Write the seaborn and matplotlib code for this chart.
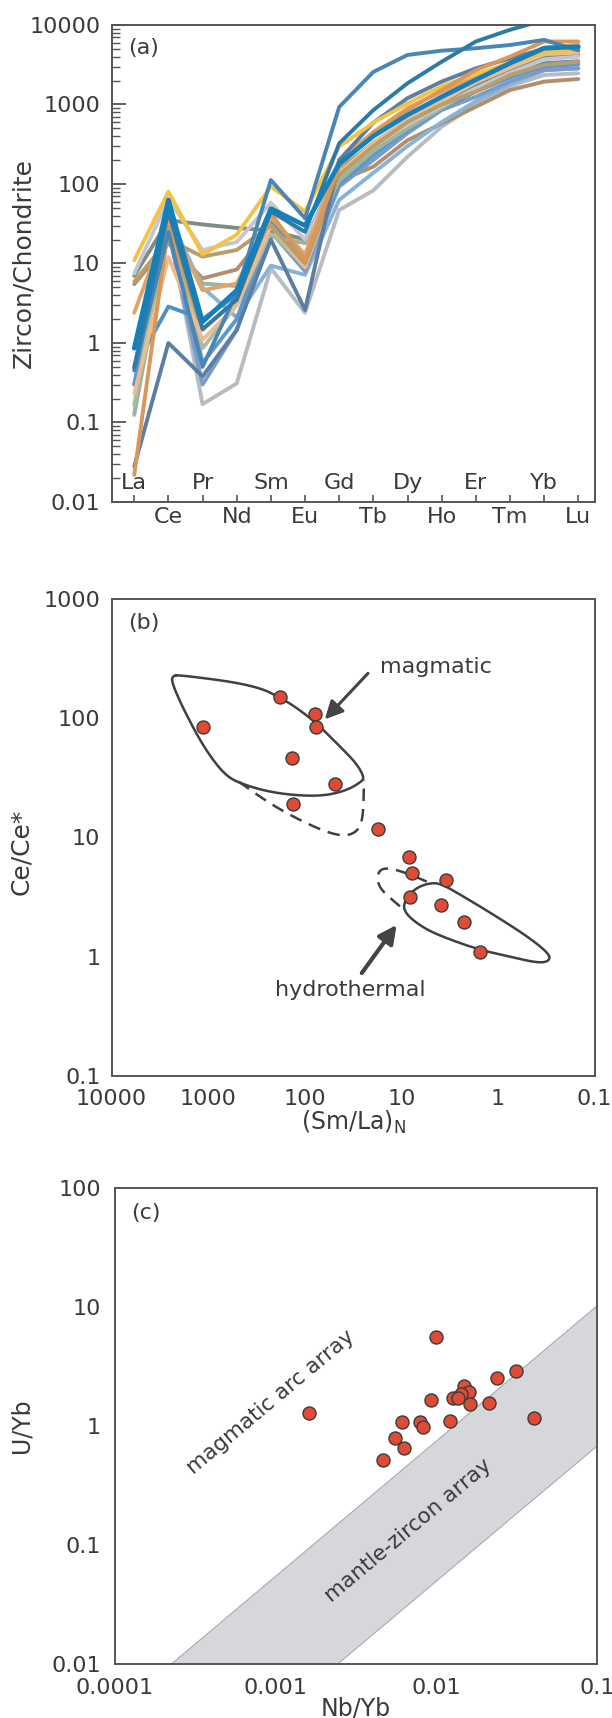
import numpy as np
import pandas as pd
import matplotlib
matplotlib.use("Agg")
import matplotlib.pyplot as plt
import matplotlib.transforms as mtransforms
from matplotlib.ticker import LogLocator, FuncFormatter, NullFormatter
import seaborn as sns

# ---------------------------------------------------------------- data
elements = ["La", "Ce", "Pr", "Nd", "Sm", "Eu", "Gd",
            "Tb", "Dy", "Ho", "Er", "Tm", "Yb", "Lu"]

# chondrite-normalised zircon REE patterns, one list per grain
z01 = [11, 80, 13, 23, 93, 45, 295, 590, 1030, 1700, 2400, 3300, 4600, 4900]
z02 = [0.45, 25, 0.5, 4.3, 112, 37, 930, 2570, 4200, 4750, 5100, 5600, 6500, 4800]
z03 = [0.5, 45, 1.5, 3.5, 45, 25, 325, 850, 1850, 3450, 6200, 8700, 11500, 14000]
z04 = [0.86, 63, 1.85, 4.6, 49, 30, 180, 400, 740, 1250, 2050, 3300, 5100, 5330]
z05 = [0.022, 29, 1.46, 3.5, 43, 11, 165, 435, 850, 1520, 2700, 4000, 6200, 6200]
z06 = [0.23, 12, 1.1, 3.0, 30, 9, 140, 330, 650, 1100, 1900, 2900, 4300, 4500]
z07 = [2.4, 35, 4.6, 5.6, 38, 13, 200, 450, 900, 1450, 2300, 3400, 5200, 5600]
z08 = [5.9, 20, 12.2, 14.8, 30, 10, 130, 300, 600, 1000, 1450, 2350, 3150, 3450]
z09 = [5.5, 18, 6.5, 8.4, 28, 12, 110, 165, 355, 575, 935, 1520, 1940, 2090]
z10 = [0.166, 40, 0.86, 3.0, 25, 9, 124, 295, 575, 1030, 1770, 2850, 4400, 4620]
z11 = [0.13, 25, 5.6, 5.2, 22, 18, 110, 260, 500, 900, 1600, 2500, 3800, 4200]
z12 = [7, 35, 31, 28, 26, 20, 150, 330, 620, 1050, 1700, 2700, 4000, 4300]
z13 = [7.5, 65, 14.8, 18.6, 58, 20, 140, 300, 560, 950, 1600, 2500, 3700, 4000]
z14 = [0.124, 30, 0.17, 0.31, 8.7, 2.4, 47, 83, 220, 525, 1000, 1700, 2350, 2470]
z15 = [0.028, 1.0, 0.38, 1.46, 20, 2.6, 200, 590, 1200, 1940, 2850, 3800, 5000, 5200]
z16 = [0.48, 40, 5.0, 2.1, 9.4, 7.2, 63, 138, 300, 600, 1100, 1800, 2700, 2850]
z17 = [0.30, 25, 0.30, 1.46, 25, 8, 93, 200, 435, 850, 1250, 1950, 2700, 2850]
z18 = [0.48, 2.87, 2.0, 4.0, 35, 12, 110, 250, 500, 900, 1500, 2300, 3300, 3500]
z19 = [0.3, 50, 0.56, 2.0, 30, 10, 100, 230, 480, 880, 1450, 2200, 3000, 3200]

# (Sm/La)N vs Ce/Ce*
sm_la_n = [1137, 181, 78, 76, 137, 48.7, 131, 17.3, 8.36, 7.8, 3.44, 8.13, 3.89, 2.26, 1.54]
ce_ce = [84.5, 152, 108, 85, 46.8, 28, 19, 11.8, 6.8, 5.08, 4.4, 3.2, 2.72, 1.94, 1.1]

# field outlines (Hoskin, 2005)
magmatic_x = [2360, 1954, 333, 158, 82, 46.9, 29.4, 24.4, 25.6, 38.9, 74.8, 208, 482, 701, 1119, 1781, 2360]
magmatic_y = [226, 231, 190, 142, 96.8, 62, 42.2, 32.4, 29.4, 24.3, 22, 23.5, 28.5, 34.6, 57.8, 117, 196]
magmatic_ext_x = [482, 208, 82, 42.7, 29.4, 24.9, 24.4]
magmatic_ext_y = [29.4, 18.2, 12.3, 10.2, 10.9, 14.1, 30.4]
hydro_x = [9.38, 8.13, 6.4, 4.66, 3.67, 2.28, 1.03, 0.466, 0.289, 0.30, 0.396, 0.75, 1.53, 3.13, 5.46, 8.13, 9.38]
hydro_y = [2.81, 3.41, 3.93, 4.19, 4.0, 3.2, 2.17, 1.43, 1.04, 0.91, 0.89, 1.0, 1.14, 1.39, 1.68, 2.11, 2.47]
hydro_ext_x = [5.46, 8.79, 13.1, 16.6, 18.0, 16.6, 13.6, 9.38]
hydro_ext_y = [4.27, 5.02, 5.53, 5.42, 4.56, 3.76, 3.2, 2.47]

# Nb/Yb vs U/Yb
nb_yb = [0.01, 0.00162, 0.0313, 0.0240, 0.01486, 0.0159, 0.01428, 0.01277, 0.01365, 0.00923,
         0.01633, 0.0214, 0.0407, 0.0122, 0.00617, 0.00792, 0.00825, 0.00557, 0.00631, 0.00466]
u_yb = [5.56, 1.28, 2.88, 2.52, 2.17, 1.94, 1.85, 1.71, 1.71, 1.65,
        1.53, 1.57, 1.16, 1.10, 1.09, 1.09, 0.975, 0.79, 0.65, 0.518]

# mantle-zircon array (Grimes et al., 2007)
mantle_x = [1e-4, 0.1]
mantle_upper = [0.00404, 10.4]
mantle_lower = [0.00027, 0.69]

# ---------------------------------------------------------------- style
spectra = {"z01": z01, "z02": z02, "z03": z03, "z04": z04, "z05": z05, "z06": z06,
           "z07": z07, "z08": z08, "z09": z09, "z10": z10, "z11": z11, "z12": z12,
           "z13": z13, "z14": z14, "z15": z15, "z16": z16, "z17": z17, "z18": z18,
           "z19": z19}
line_colors = {"z01": "#f4c244", "z02": "#4a86b5", "z03": "#2c7aa6", "z04": "#1480b9",
               "z05": "#d8985a", "z06": "#ecbc8f", "z07": "#e0a36c", "z08": "#b99d6b",
               "z09": "#b28e6e", "z10": "#a9bca4", "z11": "#9db39a", "z12": "#7d8f85",
               "z13": "#c3c6ca", "z14": "#b8bcc1", "z15": "#5b7ea2", "z16": "#87b2da",
               "z17": "#7b9cc7", "z18": "#4f90c6", "z19": "#5d98cc"}
draw_order = ["z14", "z09", "z16", "z17", "z18", "z19", "z11", "z10", "z12", "z13",
              "z06", "z08", "z07", "z15", "z01", "z05", "z02", "z03"]

sns.set_theme(style="white")
plt.rcParams["font.family"] = ["DejaVu Sans"]
plt.rcParams["mathtext.fontset"] = "dejavusans"

TXT = "#3a3a3a"
FRAME = "#555555"
OUTLINE = "#404040"
RED = "#e04b36"
TICK = 16

fig = plt.figure(figsize=(6.12, 17.18), dpi=100)
ax_a = fig.add_axes([0.1822, 0.7078, 0.7895, 0.27765])
ax_b = fig.add_axes([0.1822, 0.37369, 0.7895, 0.27765])
ax_c = fig.add_axes([0.18725, 0.03143, 0.7883, 0.27707])


def frame(ax):
    for sp in ax.spines.values():
        sp.set_color(FRAME)
        sp.set_linewidth(1.4)
    ax.set_facecolor("white")


def log_axis(axis):
    axis.set_major_locator(LogLocator(base=10, numticks=20))
    axis.set_minor_locator(LogLocator(base=10, subs=np.arange(2, 10), numticks=20))
    axis.set_major_formatter(FuncFormatter(lambda v, _: f"{v:g}"))
    axis.set_minor_formatter(NullFormatter())


def rounded(xs, ys, closed, passes=3):
    """Corner-cut a field outline in log space so it is drawn as a smooth curve."""
    p = np.column_stack([np.log10(xs), np.log10(ys)])
    for _ in range(passes):
        q = np.roll(p, -1, axis=0) if closed else p[1:]
        a = p if closed else p[:-1]
        new = np.empty((2 * len(a), 2))
        new[0::2] = 0.75 * a + 0.25 * q
        new[1::2] = 0.25 * a + 0.75 * q
        if not closed:
            new = np.vstack([p[:1], new, p[-1:]])
        p = new
    if closed:
        p = np.vstack([p, p[:1]])
    return 10 ** p[:, 0], 10 ** p[:, 1]


# ---------------------------------------------------------------- (a)
ax = ax_a
frame(ax)
ax.set_yscale("log")
long = pd.DataFrame(
    [(k, i, v) for k, vals in spectra.items() for i, v in enumerate(vals)],
    columns=["grain", "pos", "value"])
sns.lineplot(data=long[long.grain != "z04"], x="pos", y="value", hue="grain",
             hue_order=draw_order, palette=line_colors, estimator=None, sort=False,
             linewidth=2.8, legend=False, ax=ax)
sns.lineplot(data=long[long.grain == "z04"], x="pos", y="value", color=line_colors["z04"],
             estimator=None, sort=False, linewidth=3.4, legend=False, ax=ax)
ax.set_xlim(-0.666, 13.48)
ax.set_ylim(0.01, 10000)
log_axis(ax.yaxis)
ax.set_xticks(range(len(elements)))
ax.set_xticklabels([])
ax.tick_params(axis="x", direction="in", length=5, width=1.2, color=FRAME, bottom=True, top=False)
ax.tick_params(axis="y", which="major", direction="in", length=10, width=1.3, color=FRAME,
               labelcolor=TXT, labelsize=TICK, pad=8, left=True, right=False)
ax.tick_params(axis="y", which="minor", direction="in", length=6, width=1.0, color=FRAME,
               left=True, right=False)
blend = mtransforms.blended_transform_factory(ax.transData, ax.transAxes)
for i, el in enumerate(elements):
    ypos = 0.040 if i % 2 == 0 else -0.032
    ax.text(i, ypos, el, transform=blend, ha="center", va="center", fontsize=TICK, color=TXT)
ax.set_xlabel("")
ax.set_ylabel("Zircon/Chondrite", fontsize=18, color=TXT)
ax.yaxis.set_label_coords(-0.158, 0.5)
ax.text(0.034, 0.952, "(a)", transform=ax.transAxes, fontsize=TICK, color=TXT, va="center")

# ---------------------------------------------------------------- (b)
ax = ax_b
frame(ax)
ax.set_xscale("log")
ax.set_yscale("log")
mx, my = rounded(magmatic_x, magmatic_y, closed=True)
ax.plot(mx, my, color=OUTLINE, lw=1.8)
mx, my = rounded(magmatic_ext_x, magmatic_ext_y, closed=False)
ax.plot(mx, my, color=OUTLINE, lw=1.8, ls=(0, (5, 3.2)))
hx, hy = rounded(hydro_x, hydro_y, closed=True)
ax.plot(hx, hy, color=OUTLINE, lw=1.8)
hx, hy = rounded(hydro_ext_x, hydro_ext_y, closed=False)
ax.plot(hx, hy, color=OUTLINE, lw=1.8, ls=(0, (5, 3.2)))
sns.scatterplot(x=sm_la_n, y=ce_ce, s=88, color=RED, edgecolor="#3b3b3b", linewidth=1.0,
                zorder=3, legend=False, ax=ax)
ax.set_xlim(10000, 0.1)
ax.set_ylim(0.1, 1000)
log_axis(ax.xaxis)
log_axis(ax.yaxis)
ax.tick_params(axis="both", which="major", direction="in", length=10, width=1.3, color=FRAME,
               labelcolor=TXT, labelsize=TICK, top=False, right=False)
ax.tick_params(axis="both", which="minor", direction="in", length=5.5, width=1.0, color=FRAME,
               top=False, right=False)
ax.tick_params(axis="y", which="major", pad=8)
ax.tick_params(axis="x", which="major", pad=9)
ax.set_xlabel(r"(Sm/La)$_\mathregular{N}$", fontsize=17, color=TXT, labelpad=0)
ax.set_ylabel("Ce/Ce*", fontsize=18, color=TXT)
ax.yaxis.set_label_coords(-0.162, 0.47)
ax.text(0.034, 0.95, "(b)", transform=ax.transAxes, fontsize=TICK, color=TXT, va="center")
ax.text(16.6, 271, "magmatic", fontsize=TICK, color=TXT, ha="left", va="center")
ax.annotate("", xy=(62, 98), xytext=(22.2, 238),
            arrowprops=dict(arrowstyle="-|>,head_length=0.9,head_width=0.45", color="#444444",
                            lw=2.2, shrinkA=0, shrinkB=0))
ax.text(34, 0.53, "hydrothermal", fontsize=TICK, color=TXT, ha="center", va="center")
ax.annotate("", xy=(11.2, 1.85), xytext=(25.7, 0.73),
            arrowprops=dict(arrowstyle="-|>,head_length=0.9,head_width=0.45", color="#444444",
                            lw=3.0, shrinkA=0, shrinkB=0))

# ---------------------------------------------------------------- (c)
ax = ax_c
frame(ax)
ax.set_xscale("log")
ax.set_yscale("log")
ax.fill_between(mantle_x, mantle_lower, mantle_upper, facecolor="#d6d7da",
                edgecolor="#a9abaf", linewidth=0.8, zorder=1)
sns.scatterplot(x=nb_yb, y=u_yb, s=88, color=RED, edgecolor="#3b3b3b", linewidth=1.0,
                zorder=3, legend=False, ax=ax)
ax.set_xlim(1e-4, 0.1)
ax.set_ylim(0.01, 100)
log_axis(ax.xaxis)
log_axis(ax.yaxis)
ax.tick_params(axis="both", which="major", direction="in", length=10, width=1.3, color=FRAME,
               labelcolor=TXT, labelsize=TICK, top=False, right=False)
ax.tick_params(axis="both", which="minor", direction="in", length=5.5, width=1.0, color=FRAME,
               top=False, right=False)
ax.tick_params(axis="y", which="major", pad=10)
ax.tick_params(axis="x", which="major", pad=10)
ax.set_xlabel("Nb/Yb", fontsize=17, color=TXT, labelpad=-1)
ax.set_ylabel("U/Yb", fontsize=17, color=TXT)
ax.yaxis.set_label_coords(-0.169, 0.5)
ax.text(0.034, 0.947, "(c)", transform=ax.transAxes, fontsize=TICK, color=TXT, va="center")
ax.text(9.4e-4, 1.59, "magmatic arc array", fontsize=15.5, color=TXT, rotation=40,
        rotation_mode="anchor", ha="center", va="center")
ax.text(0.0067, 0.131, "mantle-zircon array", fontsize=15.5, color=TXT, rotation=40,
        rotation_mode="anchor", ha="center", va="center")

fig.savefig("out.png", dpi=100, facecolor="white")
